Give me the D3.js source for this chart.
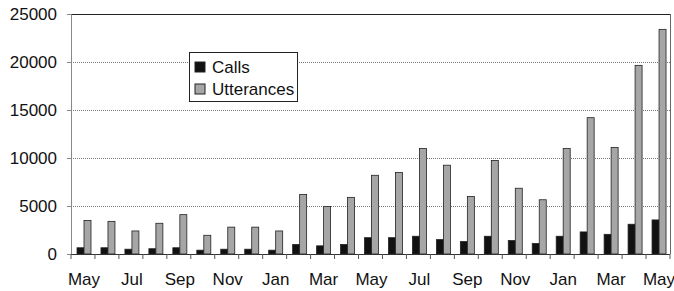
<!DOCTYPE html>
<html><head><meta charset="utf-8">
<script src="https://cdn.jsdelivr.net/npm/d3@7"></script>
<style>body{margin:0;background:#fff}svg{display:block}text{font-family:Arial,"Liberation Sans",sans-serif}</style>
</head><body><svg id="c" width="674" height="291"></svg>
<script>
const months = ["May","Jun","Jul","Aug","Sep","Oct","Nov","Dec","Jan","Feb","Mar","Apr","May","Jun","Jul","Aug","Sep","Oct","Nov","Dec","Jan","Feb","Mar","Apr","May"];
const calls = [650,650,500,550,650,400,500,500,400,1000,850,1000,1700,1700,1850,1500,1300,1850,1400,1100,1850,2300,2050,3100,3550];
const utterances = [3500,3400,2400,3200,4100,1950,2800,2800,2400,6200,4950,5900,8200,8500,11000,9250,6000,9750,6850,5650,11000,14200,11100,19650,23400];
const yTicks = [0,5000,10000,15000,20000,25000];
const seriesNames = ["Calls","Utterances"];
const seriesColors = ["#111","#a6a6a6"];

const svg = d3.select("#c");
const L=71, R=670, T=14, B=254;
const idx = d3.range(months.length);
const x = d3.scaleBand().domain(idx).range([L,R]).padding(0);
const x1 = d3.scaleBand().domain([0,1]).range([6,20]);
const y = d3.scaleLinear().domain([0,25000]).range([B,T]);

// gridlines
svg.append("g").selectAll("line").data(yTicks.filter(t=>t>0 && t<25000)).join("line")
  .attr("x1",L).attr("x2",R).attr("y1",d=>y(d)+0.5).attr("y2",d=>y(d)+0.5)
  .attr("stroke","#777").attr("stroke-width",1).attr("stroke-dasharray","1,1");
// top and right border
svg.append("line").attr("x1",L).attr("x2",R).attr("y1",y(25000)+0.5).attr("y2",y(25000)+0.5).attr("stroke","#222").attr("stroke-width",1.2);
svg.append("line").attr("x1",R+0.5).attr("x2",R+0.5).attr("y1",T).attr("y2",B).attr("stroke","#666");

// bars
const data = [calls, utterances];
data.forEach((arr,s)=>{
  svg.append("g").selectAll("rect").data(arr).join("rect")
    .attr("x",(d,i)=>x(i)+x1(s)).attr("width",x1.bandwidth())
    .attr("y",d=>y(d)).attr("height",d=>B-y(d))
    .attr("fill",seriesColors[s]).attr("stroke","#222").attr("stroke-width",0.8);
});

// y axis
const yAxis = d3.axisLeft(y).tickValues(yTicks).tickSize(4).tickPadding(10).tickFormat(d3.format("d"));
const gy = svg.append("g").attr("transform",`translate(${L},0)`).call(yAxis);
gy.select(".domain").attr("stroke","#888");
gy.selectAll(".tick line").attr("stroke","#888");
gy.selectAll("text").attr("font-size",17).attr("fill","#111").style("font-family","Arial,'Liberation Sans',sans-serif");

// x axis
const gx = svg.append("g").attr("transform",`translate(0,${B})`);
gx.append("line").attr("x1",L).attr("x2",R).attr("y1",0.5).attr("y2",0.5).attr("stroke","#333");
gx.selectAll(".tk").data(d3.range(months.length+1)).join("line")
  .attr("x1",i=>L+i*x.step()).attr("x2",i=>L+i*x.step()).attr("y1",0).attr("y2",5).attr("stroke","#555");
gx.selectAll("text").data(idx.filter(i=>i%2===0)).join("text")
  .attr("x",i=>x(i)+x.bandwidth()/2+1).attr("y",31).attr("text-anchor","middle")
  .attr("font-size",17).attr("fill","#111").text(i=>months[i]);

// legend
const lg = svg.append("g");
lg.append("rect").attr("x",189.5).attr("y",52.5).attr("width",108).attr("height",49).attr("fill","#fff").attr("stroke","#222");
seriesNames.forEach((n,s)=>{
  lg.append("rect").attr("x",195).attr("y",62+s*22).attr("width",10).attr("height",10).attr("fill",seriesColors[s]).attr("stroke","#222");
  lg.append("text").attr("x",212).attr("y",73+s*22).attr("font-size",17).attr("fill","#111").text(n);
});
</script></body></html>
